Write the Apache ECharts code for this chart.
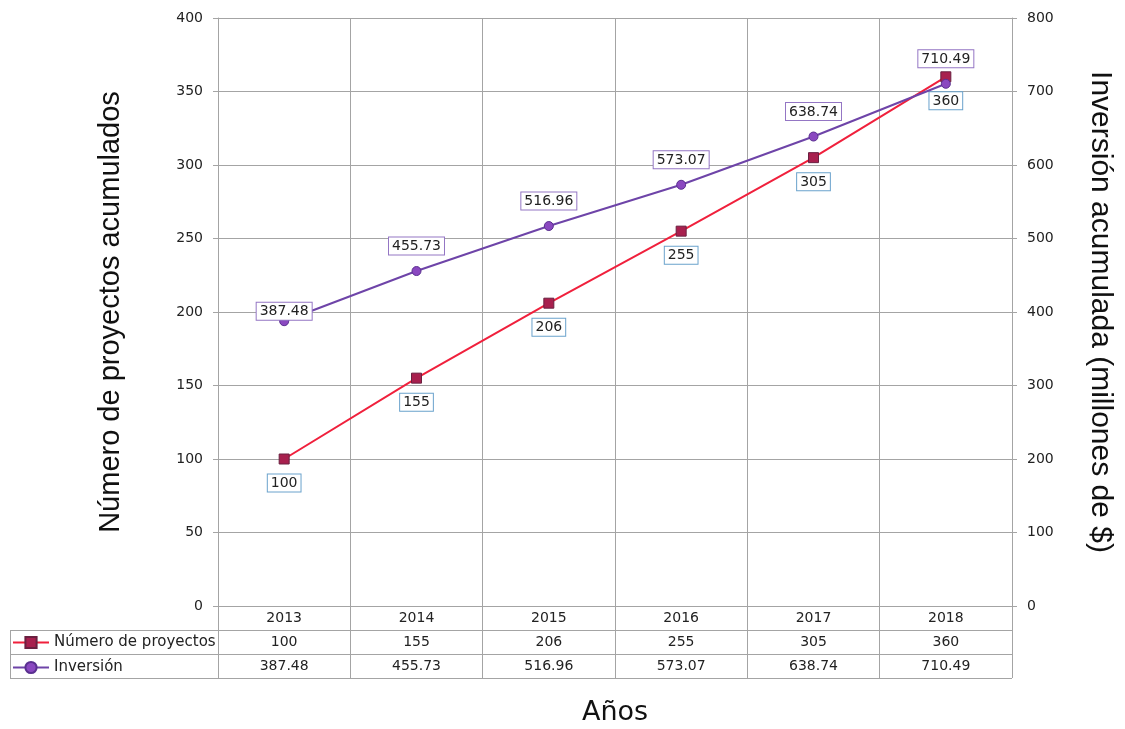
<!DOCTYPE html>
<html>
<head>
<meta charset="utf-8">
<script src="https://cdn.jsdelivr.net/npm/echarts@6/dist/echarts.min.js"></script>
<style>
  html, body { margin: 0; padding: 0; background: #fff; }
  #chart { width: 1125px; height: 729px; }
</style>
</head>
<body>
<div id="chart"></div>
<script>
// Accumulated projects and investment by year
const years = ['2013', '2014', '2015', '2016', '2017', '2018'];
const proyectos = [100, 155, 206, 255, 305, 360];
const inversion = [387.48, 455.73, 516.96, 573.07, 638.74, 710.49];

const FONT = '"DejaVu Sans", Verdana, sans-serif';
const NAME_FONT = '"Liberation Sans", Arial, Helvetica, sans-serif';
const GRID = { left: 218, right: 113, top: 18, bottom: 123 };
const W = 1125, H = 729;
const gridColor = '#a4a4a4';
const rowH = 24;

const axisBottom = H - GRID.bottom;
const plotRight = W - GRID.right;
const tableLeft = 10;

// Data-table rules under the plot
const tableLines = [];
for (let r = 1; r <= 3; r++) {
  const y = axisBottom + r * rowH + 0.5;
  tableLines.push({
    type: 'line',
    shape: { x1: tableLeft, y1: y, x2: plotRight, y2: y },
    style: { stroke: gridColor, lineWidth: 1 }
  });
}
tableLines.push({
  type: 'line',
  shape: { x1: tableLeft + 0.5, y1: axisBottom + rowH, x2: tableLeft + 0.5, y2: axisBottom + 3 * rowH },
  style: { stroke: gridColor, lineWidth: 1 }
});

// Extra category axes that print the table values under each year
const valueLabelAxis = (labels, offset) => ({
  type: 'category',
  data: labels,
  position: 'bottom',
  offset: offset,
  boundaryGap: true,
  axisLine: { show: false },
  axisTick: { show: false },
  splitLine: { show: false },
  axisLabel: { margin: 5, fontSize: 14, color: '#222', fontFamily: FONT }
});

const inversionData = inversion.map((v, i) => i === 0
  ? { value: v, label: { position: 'top', distance: -3.5 } }
  : v);

const chart = echarts.init(document.getElementById('chart'), null, { renderer: 'canvas' });
chart.setOption({
  animation: false,
  backgroundColor: '#fff',
  grid: Object.assign({ outerBoundsMode: 'none' }, GRID),
  legend: {
    orient: 'vertical',
    left: 12,
    top: axisBottom + rowH + 5,
    padding: 0,
    itemWidth: 36,
    itemHeight: 14,
    itemGap: 10,
    textStyle: { fontSize: 15, color: '#222', fontFamily: FONT, lineHeight: 14 },
    data: ['Número de proyectos', 'Inversión']
  },
  xAxis: [
    {
      type: 'category',
      data: years,
      position: 'bottom',
      boundaryGap: true,
      name: 'Años',
      nameLocation: 'middle',
      nameGap: 93,
      nameTextStyle: { fontSize: 27, color: '#111', fontFamily: FONT },
      axisLine: { show: true, lineStyle: { color: gridColor, width: 1 } },
      axisTick: { show: true, length: rowH * 3, lineStyle: { color: gridColor, width: 1 } },
      splitLine: { show: true, lineStyle: { color: gridColor, width: 1 } },
      axisLabel: { margin: 5, fontSize: 14, color: '#222', fontFamily: FONT }
    },
    valueLabelAxis(proyectos.map(String), rowH),
    valueLabelAxis(inversion.map(v => v.toFixed(2)), rowH * 2)
  ],
  yAxis: [
    {
      type: 'value',
      min: 0, max: 400, interval: 50,
      position: 'left',
      name: 'Número de proyectos acumulados',
      nameLocation: 'middle',
      nameRotate: 90,
      nameGap: 93,
      nameTextStyle: { fontSize: 29, color: '#111', fontFamily: NAME_FONT },
      axisLine: { show: true, lineStyle: { color: gridColor, width: 1 } },
      axisTick: { show: true, length: 5, lineStyle: { color: gridColor } },
      splitLine: { show: true, lineStyle: { color: gridColor, width: 1 } },
      axisLabel: { margin: 15, fontSize: 14, color: '#222', fontFamily: FONT }
    },
    {
      type: 'value',
      min: 0, max: 800, interval: 100,
      position: 'right',
      name: 'Inversión acumulada (millones de $)',
      nameLocation: 'middle',
      nameRotate: -90,
      nameGap: 73,
      nameTextStyle: { fontSize: 30, color: '#111', fontFamily: NAME_FONT },
      axisLine: { show: true, lineStyle: { color: gridColor, width: 1 } },
      axisTick: { show: true, length: 5, lineStyle: { color: gridColor } },
      splitLine: { show: false },
      axisLabel: { margin: 15, fontSize: 14, color: '#222', fontFamily: FONT }
    }
  ],
  series: [
    {
      name: 'Número de proyectos',
      type: 'line',
      xAxisIndex: 0,
      yAxisIndex: 0,
      data: proyectos,
      symbol: 'rect',
      symbolSize: 10,
      lineStyle: { color: '#f0203c', width: 2 },
      itemStyle: { color: '#a8204e', borderColor: '#6a2040', borderWidth: 1 },
      label: {
        show: true,
        position: 'bottom',
        distance: 10,
        fontSize: 14,
        color: '#222',
        fontFamily: FONT,
        backgroundColor: '#fff',
        borderColor: '#6aa2cc',
        borderWidth: 1,
        padding: [2, 3, 1, 3]
      },
      z: 3
    },
    {
      name: 'Inversión',
      type: 'line',
      xAxisIndex: 0,
      yAxisIndex: 1,
      data: inversionData,
      symbol: 'circle',
      symbolSize: 9,
      lineStyle: { color: '#6e44a8', width: 2 },
      itemStyle: { color: '#8a48c0', borderColor: '#5a3090', borderWidth: 1 },
      label: {
        show: true,
        position: 'top',
        distance: 11.5,
        fontSize: 14,
        color: '#222',
        fontFamily: FONT,
        backgroundColor: '#fff',
        borderColor: '#9476c4',
        borderWidth: 1,
        padding: [2, 3, 1, 3],
        formatter: p => p.value.toFixed(2)
      },
      z: 4
    }
  ],
  graphic: tableLines
});
</script>
</body>
</html>
